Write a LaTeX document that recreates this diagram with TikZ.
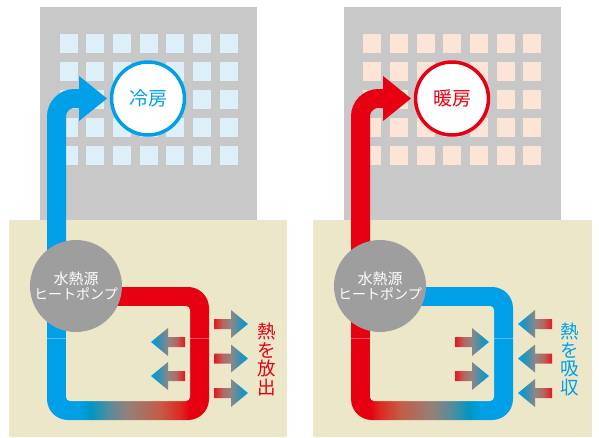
\documentclass[tikz,border=0pt]{standalone}
\usepackage{fontspec}
\newfontfamily\cjk{Noto Sans CJK JP}
\definecolor{pblue}{RGB}{0,160,233}
\definecolor{pred}{RGB}{230,0,18}
\definecolor{bldg}{RGB}{200,200,200}
\definecolor{beige}{RGB}{237,231,202}
\definecolor{winblue}{RGB}{221,240,250}
\definecolor{winpeach}{RGB}{252,228,214}
\definecolor{hpgray}{RGB}{158,158,158}
\pgfdeclarehorizontalshading{pipeBR}{100bp}{rgb(0bp)=(0,0.627,0.914); rgb(25bp)=(0,0.627,0.914); rgb(30bp)=(0,0.627,0.914); rgb(35bp)=(0,0.59,0.76); rgb(42bp)=(0.33,0.55,0.62); rgb(50bp)=(0.58,0.50,0.47); rgb(63bp)=(0.77,0.36,0.28); rgb(71bp)=(0.87,0.16,0.13); rgb(75bp)=(0.9,0,0.07); rgb(100bp)=(0.9,0,0.07)}
\pgfdeclarehorizontalshading{pipeRB}{100bp}{rgb(0bp)=(0.9,0,0.07); rgb(25bp)=(0.9,0,0.07); rgb(29bp)=(0.87,0.16,0.13); rgb(37bp)=(0.77,0.36,0.28); rgb(50bp)=(0.58,0.50,0.47); rgb(58bp)=(0.33,0.55,0.62); rgb(65bp)=(0,0.59,0.76); rgb(70bp)=(0,0.627,0.914); rgb(75bp)=(0,0.627,0.914); rgb(100bp)=(0,0.627,0.914)}
\pgfdeclarehorizontalshading{arrL}{100bp}{rgb(0bp)=(0,0.627,0.914); rgb(25bp)=(0,0.627,0.914); rgb(34bp)=(0.12,0.58,0.74); rgb(50bp)=(0.55,0.53,0.53); rgb(62bp)=(0.72,0.40,0.37); rgb(75bp)=(0.89,0.10,0.12); rgb(100bp)=(0.89,0.10,0.12)}
\pgfdeclarehorizontalshading{arrR}{100bp}{rgb(0bp)=(0.89,0.10,0.12); rgb(25bp)=(0.89,0.10,0.12); rgb(38bp)=(0.72,0.40,0.37); rgb(50bp)=(0.55,0.53,0.53); rgb(66bp)=(0.12,0.58,0.74); rgb(75bp)=(0,0.627,0.914); rgb(100bp)=(0,0.627,0.914)}
\tikzset{
  larrow/.pic={\shade[shading=arrL] (0,0) -- (17,-14) -- (17,-5) -- (34,-5) -- (34,5) -- (17,5) -- (17,14) -- cycle;},
  rarrow/.pic={\shade[shading=arrR] (0,0) -- (-17,-14) -- (-17,-5) -- (-34,-5) -- (-34,5) -- (-17,5) -- (-17,14) -- cycle;},
  hp/.style={circle, fill=hpgray, minimum size=92pt, inner sep=0pt, text=white, align=center},
  room/.style={circle, line width=3.5pt, fill=white, minimum size=73pt, inner sep=0pt, font=\cjk\fontsize{19}{22}\selectfont},
  vtext/.style={inner sep=0pt, align=center, font=\cjk\fontsize{18.5}{18.75}\selectfont},
  seam/.style={draw=white, draw opacity=0.35, line width=0.6pt},
}
\newcommand\hptext{{\cjk\fontsize{15}{20}\selectfont 水熱源}\\{\cjk\fontsize{14}{20}\selectfont ヒートポンプ}}
\begin{document}
\begin{tikzpicture}[x=1pt,y=-1pt]
\useasboundingbox (0,0) rectangle (599,437);
% ===== left panel =====
\fill[bldg] (40,7) rectangle (257,222);
\foreach \i in {0,...,6} \foreach \j in {0,...,4}
  \fill[winblue] ({59.8+26.67*\i},{33.7+28*\j}) rectangle +(18,19);
\fill[beige] (9,220) rectangle (287,437);
\begin{scope}
  \clip[rounded corners=21pt] (47,287) rectangle (209,420);
  \fill[pblue] (40,280) rectangle (67,425);
  \shade[shading=pipeBR] (66,280) rectangle (190,425);
  \fill[pred] (189,280) rectangle (215,425);
  \fill[pred] (95,280) rectangle (191,306);
\end{scope}
\fill[beige, rounded corners=4pt] (66,306) rectangle (190,401);
\coordinate (pL) at (56.5,300);
\coordinate (aL) at (79,98.5);
\draw[pblue, line width=19pt, rounded corners=18pt] (pL) |- (aL);
\fill[pblue] (aL) ++(0,-22.5) -- ++(28,22.5) -- ++(-28,22.5) -- cycle;
\draw[seam] (47,338) -- (66,338) (190,338) -- (209,338);
\node[hp] (hpL) at (76,286) {\hptext};
\node[room, draw=pblue, text=pblue] (roomL) at (148,98.5) {冷房};
\pic at (151,342) {larrow};
\pic at (151,376) {larrow};
\pic at (248,324) {rarrow};
\pic at (248,358.5) {rarrow};
\pic at (248,393) {rarrow};
\node[vtext, text=pred] (txtL) at (267,359.5) {熱\\を\\放\\出};
% ===== right panel =====
\fill[bldg] (344,7) rectangle (561,222);
\foreach \i in {0,...,6} \foreach \j in {0,...,4}
  \fill[winpeach] ({363.3+26.67*\i},{33.7+28*\j}) rectangle +(18,19);
\fill[beige] (313,220) rectangle (592,437);
\begin{scope}
  \clip[rounded corners=21pt] (351,287) rectangle (513,420);
  \fill[pred] (344,280) rectangle (371,425);
  \shade[shading=pipeRB] (370,280) rectangle (494,425);
  \fill[pblue] (493,280) rectangle (519,425);
  \fill[pblue] (399,280) rectangle (495,306);
\end{scope}
\fill[beige, rounded corners=4pt] (370,306) rectangle (494,401);
\coordinate (pR) at (360.5,300);
\coordinate (aR) at (383,98.5);
\draw[pred, line width=19pt, rounded corners=18pt] (pR) |- (aR);
\fill[pred] (aR) ++(0,-22.5) -- ++(28,22.5) -- ++(-28,22.5) -- cycle;
\draw[seam] (351,338) -- (370,338) (494,338) -- (513,338);
\node[hp] (hpR) at (380,286) {\hptext};
\node[room, draw=pred, text=pred] (roomR) at (452,98.5) {暖房};
\pic at (489,342) {rarrow};
\pic at (489,376) {rarrow};
\pic at (518,324) {larrow};
\pic at (518,358.5) {larrow};
\pic at (518,393) {larrow};
\node[vtext, text=pblue] (txtR) at (570,359.5) {熱\\を\\吸\\収};
\end{tikzpicture}
\end{document}
